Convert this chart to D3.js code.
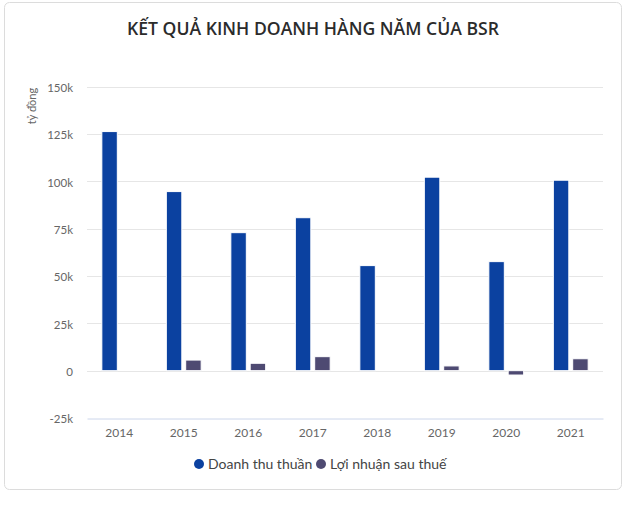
<!DOCTYPE html>
<html>
<head>
<meta charset="utf-8">
<script src="https://cdn.jsdelivr.net/npm/d3@7"></script>
<style>
  html, body { margin: 0; padding: 0; background: #ffffff; }
  svg { display: block; }
</style>
</head>
<body>
<div id="chart"></div>
<script>
// ---- Data ----
const years = ["2014", "2015", "2016", "2017", "2018", "2019", "2020", "2021"];
const revenue = [126300, 94600, 72900, 80800, 55500, 102200, 57600, 100600];
const profit = [null, 5600, 3900, 7400, 0, 2500, -2300, 6300];
const seriesNames = ["Doanh thu thuần", "Lợi nhuận sau thuế"];
const seriesColors = ["#0b41a0", "#4e4a72"];
const yTicks = [-25000, 0, 25000, 50000, 75000, 100000, 125000, 150000];
const titleText = "KẾT QUẢ KINH DOANH HÀNG NĂM CỦA BSR";
const yTitle = "tỷ đồng";

// ---- Layout ----
const W = 630, H = 507;
const plot = { left: 87, right: 603, top: 86.7, bottom: 418 };

const svg = d3.select("#chart").append("svg")
  .attr("width", W).attr("height", H);

// card
svg.append("rect")
  .attr("x", 4.5).attr("y", 2.5).attr("width", 617).attr("height", 487)
  .attr("rx", 5).attr("fill", "#fff").attr("stroke", "#dcdcdc").attr("stroke-width", 1);

// title
svg.append("text")
  .attr("x", 313).attr("y", 35)
  .attr("text-anchor", "middle")
  .attr("font-family", "'Open Sans', sans-serif")
  .attr("font-weight", 600)
  .attr("font-size", 17.6)
  .attr("fill", "#2b2b2b")
  .text(titleText);

// scales
const y = d3.scaleLinear().domain([-25000, 150000]).range([plot.bottom, plot.top]);
const x0 = d3.scaleBand().domain(years).range([plot.left, plot.right]).padding(0);
const x1 = d3.scaleBand().domain([0, 1])
  .range([x0.bandwidth() * 0.2, x0.bandwidth() * 0.8])
  .paddingInner(0.2).paddingOuter(0.1);

const fmt = d => d === 0 ? "0" : (d / 1000) + "k";

// gridlines
svg.append("g").selectAll("line").data(yTicks.filter(t => t !== -25000)).join("line")
  .attr("x1", plot.left).attr("x2", plot.right)
  .attr("y1", d => Math.round(y(d)) + 0.5).attr("y2", d => Math.round(y(d)) + 0.5)
  .attr("stroke", "#e6e6e6").attr("stroke-width", 1);

// y axis labels
const yAxis = d3.axisLeft(y).tickValues(yTicks).tickFormat(fmt).tickSize(0).tickPadding(0);
const gy = svg.append("g").attr("transform", "translate(73,1)").call(yAxis);
gy.select(".domain").remove();
gy.selectAll("text")
  .attr("font-family", "Lato, sans-serif").attr("font-size", 11.5).attr("fill", "#666");

// y title
svg.append("text")
  .attr("transform", "translate(36,106) rotate(-90)")
  .attr("text-anchor", "middle")
  .attr("font-family", "Lato, sans-serif").attr("font-size", 11).attr("fill", "#666")
  .text(yTitle);

// bars
const rows = years.map((yr, i) => ({ yr, vals: [revenue[i], profit[i]] }));
const groups = svg.append("g").selectAll("g").data(rows).join("g")
  .attr("transform", d => `translate(${x0(d.yr)},0)`);
groups.selectAll("rect")
  .data(d => d.vals.map((v, k) => ({ v, k })).filter(e => e.v !== null))
  .join("rect")
  .attr("x", e => x1(e.k))
  .attr("width", x1.bandwidth())
  .attr("y", e => Math.min(y(e.v), y(0)))
  .attr("height", e => Math.abs(y(e.v) - y(0)))
  .attr("fill", e => seriesColors[e.k])
  .attr("stroke", "#fff").attr("stroke-width", 1);

// x axis
const xAxis = d3.axisBottom(x0).tickSize(0).tickPadding(0);
const gx = svg.append("g").attr("transform", `translate(0,${Math.round(plot.bottom) + 0.5})`).call(xAxis);
gx.select(".domain").attr("stroke", "#ccd6eb");
gx.selectAll("text")
  .attr("dy", "1.05em").attr("y", 6)
  .attr("font-family", "Lato, sans-serif").attr("font-size", 12).attr("fill", "#666");

// legend
const legend = svg.append("g").attr("transform", "translate(0,464)");
const legX = [199, 321];
seriesNames.forEach((n, i) => {
  legend.append("circle").attr("cx", legX[i]).attr("cy", 0).attr("r", 5).attr("fill", seriesColors[i]);
  legend.append("text").attr("x", legX[i] + 9).attr("y", 0).attr("dy", "0.35em")
    .attr("font-family", "Lato, sans-serif").attr("font-size", 14).attr("fill", "#444")
    .text(n);
});
</script>
</body>
</html>
